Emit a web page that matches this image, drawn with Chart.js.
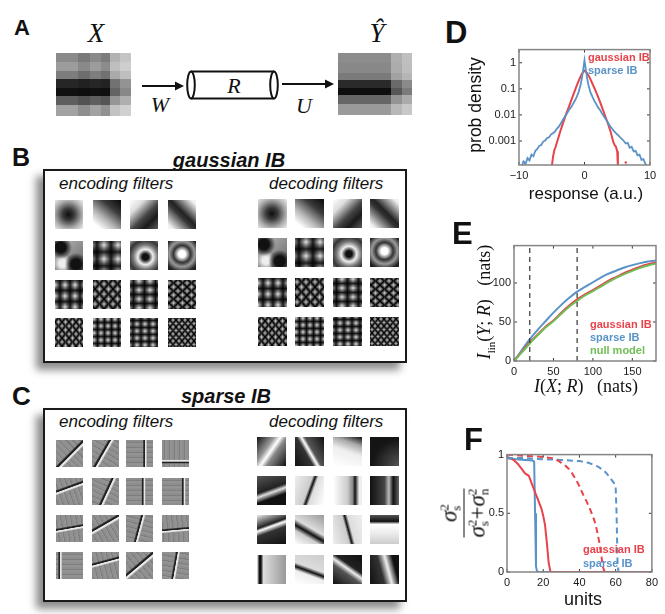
<!DOCTYPE html>
<html>
<head>
<meta charset="utf-8">
<script src="https://cdn.jsdelivr.net/npm/chart.js@4.4.1/dist/chart.umd.min.js"></script>
<style>
  body { margin: 0; background: #fff; }
  #fig { position: relative; width: 665px; height: 614px; overflow: hidden;
         font-family: "Liberation Sans", Arial, sans-serif; color: #111; }
  .abs { position: absolute; line-height: 1; white-space: nowrap; }
  .letter { position: absolute; font-weight: bold; line-height: 1; }
  .serif { font-family: "Liberation Serif", "DejaVu Serif", serif; }
  .it { font-style: italic; }
  .box { position: absolute; border: 2px solid #1a1a1a; background: #fff;
         box-shadow: -7px 7px 8px rgba(0,0,0,0.45); box-sizing: border-box; }
  .ttl { position: absolute; font-weight: bold; font-style: italic; font-size: 20px; line-height: 1;
         transform: translateX(-50%); white-space: nowrap; }
  .sub { position: absolute; font-style: italic; font-size: 17px; line-height: 1; white-space: nowrap; }
  .patch { position: absolute; }
  .soft { filter: blur(0.6px); }
  .rot { transform: translate(-50%, -50%) rotate(-90deg); }
  .ctr { transform: translate(-50%, -50%); }
  .leg { position: absolute; font-weight: bold; font-size: 11px; line-height: 13px; white-space: nowrap; }
  .ss { display: inline-block; vertical-align: -0.3em; font-size: 0.58em; line-height: 0.9;
        font-style: normal; text-align: left; }
  .wrap { position: absolute; }
</style>
</head>
<body>
<div id="fig">
  <!-- panel A -->
  <div class="letter" style="left:14px;top:17px;font-size:22px">A</div>
  <div class="patch" id="xPatch" style="left:56px;top:53px;width:75px;height:63px"></div>
  <div class="patch" id="yPatch" style="left:338px;top:53px;width:74px;height:62px"></div>
  <svg class="abs" style="left:0;top:0" width="665" height="140">
    <g font-family="Liberation Serif, DejaVu Serif, serif" font-style="italic" text-anchor="middle" fill="#111">
      <text x="96" y="42" font-size="27">X</text>
      <text x="377" y="42" font-size="27">Ŷ</text>
      <text x="160" y="112" font-size="22">W</text>
      <text x="304" y="113" font-size="22">U</text>
      <text x="234" y="93" font-size="22">R</text>
    </g>
    <g stroke="#111" stroke-width="2" fill="none">
      <line x1="142" y1="86" x2="176" y2="86"/>
      <line x1="282" y1="84" x2="326" y2="84"/>
      <line x1="191" y1="71.5" x2="274" y2="71.5"/>
      <line x1="191" y1="98.5" x2="274" y2="98.5"/>
      <ellipse cx="191" cy="85" rx="3.8" ry="13.5"/>
      <ellipse cx="274" cy="85" rx="3.8" ry="13.5"/>
    </g>
    <polygon points="175,81.5 184,86 175,90.5" fill="#111"/>
    <polygon points="325,79.5 334,84 325,88.5" fill="#111"/>
  </svg>

  <!-- panel B -->
  <div class="letter" style="left:12px;top:145px;font-size:25px">B</div>
  <div class="ttl" style="left:229px;top:150px">gaussian IB</div>
  <div class="box" style="left:43px;top:169px;width:364px;height:194px"></div>
  <div class="sub" style="left:59px;top:175px">encoding filters</div>
  <div class="sub" style="left:269px;top:175px">decoding filters</div>

  <!-- panel C -->
  <div class="letter" style="left:12px;top:383px;font-size:26px">C</div>
  <div class="ttl" style="left:226px;top:386px">sparse IB</div>
  <div class="box" style="left:43px;top:408px;width:364px;height:194px"></div>
  <div class="sub" style="left:59px;top:413px">encoding filters</div>
  <div class="sub" style="left:269px;top:413px">decoding filters</div>

  <!-- panel D -->
  <div class="letter" style="left:445px;top:17px;font-size:31px">D</div>
  <div class="wrap" style="left:478px;top:40px"><canvas id="chartD" width="185" height="145"></canvas></div>
  <div class="abs rot" style="left:476px;top:105px;font-size:17.5px">prob density</div>
  <div class="abs ctr" style="left:586px;top:193px;font-size:17px">response (a.u.)</div>
  <div class="leg" style="left:588px;top:51px;color:#e8434b">gaussian IB</div>
  <div class="leg" style="left:588px;top:64px;color:#5a93c8">sparse IB</div>

  <!-- panel E -->
  <div class="letter" style="left:452px;top:218px;font-size:31px">E</div>
  <div class="wrap" style="left:479px;top:236px"><canvas id="chartE" width="185" height="145"></canvas></div>
  <div class="abs rot serif" style="left:486px;top:302px;font-size:18px"><span class="it">I</span><sub style="font-size:11px">lin</sub>(<span class="it">Y</span>; <span class="it">R</span>)&nbsp;&nbsp;&nbsp;(nats)</div>
  <div class="abs ctr serif" style="left:586px;top:386px;font-size:18px"><span class="it">I</span>(<span class="it">X</span>; <span class="it">R</span>)&nbsp;&nbsp;&nbsp;(nats)</div>
  <div class="leg" style="left:590px;top:318px;color:#e8434b">gaussian IB</div>
  <div class="leg" style="left:590px;top:331px;color:#5a93c8">sparse IB</div>
  <div class="leg" style="left:590px;top:344px;color:#6fbf55">null model</div>

  <!-- panel F -->
  <div class="letter" style="left:464px;top:424px;font-size:31px">F</div>
  <div class="wrap" style="left:475px;top:445px"><canvas id="chartF" width="187" height="147"></canvas></div>
  <div class="abs rot serif" style="left:464px;top:513px;font-size:23px;text-align:center">
    <div style="padding:0 5px 1px"><span class="it">σ</span><span class="ss">2<br>s</span></div>
    <div style="border-top:1.5px solid #111;padding-top:1px"><span class="it">σ</span><span class="ss">2<br>s</span>+<span class="it">σ</span><span class="ss">2<br>n</span></div>
  </div>
  <div class="abs ctr" style="left:583px;top:599px;font-size:18px">units</div>
  <div class="leg" style="left:583px;top:543px;color:#e8434b">gaussian IB</div>
  <div class="leg" style="left:583px;top:557px;color:#5a93c8">sparse IB</div>
</div>

<script>
// ---- D: response distributions (log density) ----
const dRespGauss = [-5.0, -4.8, -4.6, -4.4, -4.2, -4.0, -3.6, -3.2, -2.8, -2.4, -2.0, -1.6, -1.2, -0.8, -0.4,
  0, 0.4, 0.8, 1.2, 1.6, 2.0, 2.4, 2.8, 3.2, 3.6, 4.0, 4.4, 4.6, 4.8, 5.0, 5.1];
const dGaussIB = [0.0001, 0.00025, 0.00045, 0.0006, 0.0009, 0.0013, 0.0028, 0.0055, 0.011, 0.02, 0.038, 0.07, 0.13, 0.23, 0.38,
  0.5, 0.4, 0.27, 0.16, 0.095, 0.055, 0.03, 0.016, 0.0085, 0.0045, 0.0022, 0.0009, 0.0007, 0.0006, 0.0004, 0.0001];
const dRespSparse = [-9.6, -9.3, -9.0, -8.7, -8.4, -8.1, -7.8, -7.5, -7.2, -6.9, -6.6, -6.3, -6.0, -5.7, -5.4, -5.1,
  -4.8, -4.5, -4.2, -3.9, -3.6, -3.3, -3.0, -2.7, -2.4, -2.1, -1.8, -1.5, -1.2, -0.9, -0.6, -0.4, -0.2,
  0, 0.2, 0.4, 0.6, 0.9, 1.2, 1.5, 1.8, 2.1, 2.4, 2.7, 3.0, 3.3, 3.6, 3.9, 4.2, 4.5, 4.8, 5.1, 5.4,
  5.7, 6.0, 6.3, 6.6, 6.9, 7.2, 7.5, 7.8, 8.1, 8.4, 8.7, 9.0, 9.3, 9.6];
const dSparseIB = [0.00011, 0.00016, 0.00013, 0.00022, 0.00018, 0.0003, 0.00026, 0.00042, 0.0005, 0.00065, 0.0007, 0.00095,
  0.00105, 0.0013, 0.0014, 0.0018, 0.002, 0.0023, 0.003, 0.0036, 0.0048, 0.0065, 0.0085, 0.011, 0.015, 0.019,
  0.025, 0.034, 0.048, 0.075, 0.14, 0.26, 0.55,
  1.25, 0.55, 0.26, 0.14, 0.075, 0.05, 0.035, 0.026, 0.019, 0.015, 0.011, 0.0085, 0.0066, 0.005, 0.0037, 0.003,
  0.0024, 0.002, 0.0017, 0.0014, 0.0012, 0.001, 0.0008, 0.00085, 0.00055, 0.0006, 0.0004, 0.00042, 0.00028,
  0.0003, 0.00019, 0.0002, 0.00013, 0.00011];
const dStrayGaussX = [6.3], dStrayGaussY = [0.00015];
const dStraySparseX = [-9.3], dStraySparseY = [0.00016];
const dXTicks = [-10, 0, 10];
const dYTicks = [0.001, 0.01, 0.1, 1];

// ---- E: linear information vs compression ----
const eInfoX = [0, 10, 20, 30, 40, 50, 60, 70, 80, 90, 100, 110, 120, 130, 140, 150, 160, 170, 180];
const eGaussIB = [0, 12, 24, 34, 44, 52, 62, 71, 79, 85.5, 91, 97, 103, 108, 113, 117, 121, 124, 126.5];
const eSparseIB = [0, 14, 28, 40, 51, 62, 72, 81, 89, 95, 101, 107, 112, 116, 120, 123, 125.5, 127.5, 129];
const eNullModel = [0, 11, 22.5, 33, 43, 51, 60.5, 69.5, 77, 84, 89.5, 95.5, 101.5, 107, 111.5, 115.5, 119.5, 122.5, 125];
const eMarkers = [20, 80];
const eXTicks = [0, 50, 100, 150];
const eYTicks = [0, 50, 100];

// ---- F: signal fraction per unit (solid: I=20, dashed: I=80) ----
const fGaussX20 = [0, 2, 4, 6, 8, 10, 11, 12, 13, 14, 15, 16, 17, 18, 19, 20, 21, 22, 23, 24, 40, 60, 80];
const fGaussY20 = [0.98, 0.97, 0.95, 0.92, 0.88, 0.84, 0.83, 0.82, 0.78, 0.74, 0.7, 0.66, 0.62, 0.58, 0.54, 0.48, 0.4, 0.25, 0.08, 0, 0, 0, 0];
const fSparseX20 = [0, 2, 5, 10, 14, 15, 15.5, 16, 16.5, 17, 18, 40, 80];
const fSparseY20 = [0.97, 0.965, 0.96, 0.955, 0.95, 0.94, 0.5, 0.05, 0.01, 0.003, 0, 0, 0];
const fGaussX80 = [0, 10, 20, 25, 28, 30, 32, 34, 36, 38, 40, 42, 44, 46, 48, 49, 50, 51, 52, 53, 54, 60, 70, 80];
const fGaussY80 = [1, 0.99, 0.98, 0.97, 0.95, 0.93, 0.91, 0.88, 0.84, 0.79, 0.73, 0.66, 0.6, 0.53, 0.45, 0.4, 0.33, 0.25, 0.15, 0.04, 0, 0, 0, 0];
const fSparseX80 = [0, 10, 20, 30, 40, 45, 50, 53, 55, 57, 59, 60, 60.5, 61, 61.5, 62, 70, 80];
const fSparseY80 = [0.97, 0.97, 0.96, 0.955, 0.945, 0.93, 0.9, 0.87, 0.84, 0.8, 0.76, 0.72, 0.5, 0.1, 0.01, 0, 0, 0];
const fXTicks = [0, 20, 40, 60, 80];
const fYTicks = [0, 0.5, 1];

const RED = '#e8434b', BLUE = '#5a93c8', GREEN = '#6fbf55';
const tickFont = { family: 'Liberation Sans, Arial, sans-serif', size: 11 };

const pts = (xs, ys) => xs.map((x, i) => ({ x: x, y: ys[i] }));
const minus = v => (v < 0 ? '\u2212' + Math.abs(v) : String(v));

// matlab style box with inward ticks
const boxPlugin = {
  id: 'mbox',
  afterDatasetsDraw(chart) {
    const { ctx, chartArea: a, scales } = chart;
    ctx.save();
    ctx.strokeStyle = '#3a3a3a';
    ctx.lineWidth = 1;
    ctx.beginPath();
    scales.x.ticks.forEach(t => {
      const px = scales.x.getPixelForValue(t.value);
      ctx.moveTo(px, a.bottom); ctx.lineTo(px, a.bottom - 3);
      ctx.moveTo(px, a.top); ctx.lineTo(px, a.top + 3);
    });
    scales.y.ticks.forEach(t => {
      const py = scales.y.getPixelForValue(t.value);
      ctx.moveTo(a.left, py); ctx.lineTo(a.left + 3, py);
      ctx.moveTo(a.right, py); ctx.lineTo(a.right - 3, py);
    });
    ctx.stroke();
    ctx.strokeStyle = '#858585';
    ctx.lineWidth = 1.5;
    ctx.strokeRect(a.left, a.top, a.right - a.left, a.bottom - a.top);
    ctx.restore();
  }
};

function axis(type, min, max, tickList, size, horizontal) {
  return {
    type: type, min: min, max: max,
    grid: { display: false, drawTicks: false },
    border: { display: false },
    afterBuildTicks: s => { s.ticks = tickList.map(v => ({ value: v })); },
    afterFit: s => { if (horizontal) s.height = size; else s.width = size; },
    ticks: { font: tickFont, color: '#1a1a1a', padding: horizontal ? 4 : 3, maxRotation: 0, autoSkip: false, callback: minus }
  };
}

function line(data, color, extra) {
  return Object.assign({ data: data, borderColor: color, borderWidth: 2, pointRadius: 0, tension: 0, fill: false }, extra || {});
}

function makeChart(id, datasets, scales, padRight) {
  return new Chart(document.getElementById(id), {
    type: 'line',
    data: { datasets: datasets },
    options: {
      responsive: false,
      animation: false,
      layout: { padding: { top: 8, right: padRight, left: 0, bottom: 0 } },
      plugins: { legend: { display: false }, tooltip: { enabled: false } },
      scales: scales
    },
    plugins: [boxPlugin]
  });
}

makeChart('chartD', [
  line(pts(dRespSparse, dSparseIB), BLUE, { borderWidth: 1.8 }),
  line(pts(dRespGauss, dGaussIB), RED),
  { type: 'scatter', data: pts(dStraySparseX, dStraySparseY), pointRadius: 1.2, backgroundColor: BLUE, borderWidth: 0 },
  { type: 'scatter', data: pts(dStrayGaussX, dStrayGaussY), pointRadius: 1.2, backgroundColor: RED, borderWidth: 0 }
], {
  x: axis('linear', -10, 10, dXTicks, 20, true),
  y: axis('logarithmic', 0.00012, 3.2, dYTicks, 41, false)
}, 13);

const eYMin = 0, eYMax = 148;
makeChart('chartE', [
  ...eMarkers.map(m => line([{ x: m, y: eYMin }, { x: m, y: eYMax }], '#333', { borderWidth: 1.2, borderDash: [5, 4] })),
  line(pts(eInfoX, eNullModel), GREEN, { tension: 0.3 }),
  line(pts(eInfoX, eGaussIB), RED, { tension: 0.3 }),
  line(pts(eInfoX, eSparseIB), BLUE, { tension: 0.3 })
], {
  x: axis('linear', 0, 180, eXTicks, 20, true),
  y: axis('linear', eYMin, eYMax, eYTicks, 35, false)
}, 8);

makeChart('chartF', [
  line(pts(fGaussX80, fGaussY80), RED, { borderDash: [6, 4] }),
  line(pts(fSparseX80, fSparseY80), BLUE, { borderDash: [6, 4] }),
  line(pts(fGaussX20, fGaussY20), RED),
  line(pts(fSparseX20, fSparseY20), BLUE)
], {
  x: axis('linear', 0, 80, fXTicks, 20, true),
  y: axis('linear', 0, 1, fYTicks, 32, false)
}, 10);

// ---- filter patches (decoration, CSS gradients) ----
const fig = document.getElementById('fig');
function patch(x, y, w, h, bg, blend, cls) {
  const d = document.createElement('div');
  d.className = 'patch' + (cls ? ' ' + cls : '');
  d.style.cssText = `left:${x}px;top:${y}px;width:${w}px;height:${h}px;background:${bg};` +
    (blend ? `background-blend-mode:${blend};` : '');
  fig.appendChild(d);
}
const plaid = (p, q, ox, oy) =>
  `repeating-linear-gradient(90deg,#f2f2f2 ${ox}px,#1c1c1c ${ox + p / 2}px,#f2f2f2 ${ox + p}px),` +
  `repeating-linear-gradient(0deg,#f2f2f2 ${oy}px,#262626 ${oy + q / 2}px,#f2f2f2 ${oy + q}px)`;
const gaussPats = [
  ['radial-gradient(circle at 48% 50%,#0d0d0d 0%,#3a3a3a 28%,#b0b0b0 68%,#efefef 100%)'],
  ['linear-gradient(220deg,#111 5%,#3a3a3a 30%,#b5b5b5 62%,#fff 88%)'],
  ['linear-gradient(135deg,#fff 0%,#ddd 25%,#454545 55%,#1a1a1a 75%,#5a5a5a 100%)'],
  ['linear-gradient(45deg,#f2f2f2 8%,#333 45%,#222 55%,#f2f2f2 92%)'],
  ['radial-gradient(circle at 20% 22%,#111 0 16%,transparent 36%),radial-gradient(circle at 75% 80%,#111 0 16%,transparent 36%),radial-gradient(circle at 28% 78%,#eee 0 12%,transparent 30%),linear-gradient(135deg,#bbb,#666)'],
  [plaid(14, 14, -3, -3), 'multiply'],
  ['radial-gradient(circle at 55% 55%,#111 0 14%,#eee 34%,#777 55%,#333 75%,#999 100%)'],
  ['radial-gradient(circle at 50% 45%,#fff 0 16%,#333 40%,#999 60%,#222 85%)'],
  [plaid(10, 11, 0, 2), 'multiply'],
  [plaid(9, 10, 2, 0), 'difference'],
  [plaid(11, 9, -2, 1), 'multiply'],
  [plaid(9, 8, 1, -2), 'difference'],
  [plaid(7, 8, 0, 1), 'difference'],
  [plaid(7, 7, 1, 0), 'multiply'],
  [plaid(8, 7, -1, 2), 'multiply'],
  [plaid(6, 7, 2, -1), 'difference']
];
const bEncX = [55, 93, 130, 168], bEncY = [200, 241, 280, 318];
const bDecX = [258, 295, 333, 370], bDecY = [199, 238, 278, 317];
gaussPats.forEach((p, i) => {
  const r = Math.floor(i / 4), c = i % 4;
  patch(bEncX[c], bEncY[r], 28, 29, p[0], p[1], 'soft');
  patch(bDecX[c], bDecY[r], 29, 29, p[0], p[1], 'soft');
});

const stripe = (a, pos) =>
  `linear-gradient(${a}deg,transparent ${pos - 8}%,#202020 ${pos - 4}%,#202020 ${pos - 1}%,#e8e8e8 ${pos + 1}%,#e8e8e8 ${pos + 4}%,transparent ${pos + 8}%),` +
  `repeating-linear-gradient(${a + 90}deg,#8e8e8e 0 2px,#7e7e7e 2px 3px,#939393 3px 5px)`;
const sparseEnc = [[135, 55], [120, 45], [90, 70], [0, 20], [160, 40], [115, 55], [90, 65], [90, 80],
  [170, 50], [150, 40], [105, 50], [175, 55], [90, 15], [165, 40], [140, 50], [100, 50]];
const sparseDec = [
  'linear-gradient(125deg,#111 0%,#999 35%,#fff 48%,#888 60%,#111 100%)',
  'linear-gradient(60deg,#111 0%,#333 40%,#fff 50%,#555 58%,#111 100%)',
  'linear-gradient(200deg,#111 0%,#aaa 25%,#eee 50%,#fff 100%)',
  'radial-gradient(circle at 100% 100%,#555 0%,#151515 65%)',
  'linear-gradient(160deg,#555 0%,#222 45%,#ddd 55%,#111 70%)',
  'linear-gradient(110deg,#eee 0%,#ccc 45%,#111 52%,#ddd 60%,#fff 100%)',
  'linear-gradient(90deg,#fff 0%,#ccc 50%,#888 68%,#111 76%,#eee 90%)',
  'linear-gradient(90deg,#111 0%,#444 50%,#bbb 65%,#111 80%,#666 100%)',
  'linear-gradient(160deg,#eee 0%,#222 35%,#fff 42%,#333 55%,#111 100%)',
  'linear-gradient(30deg,#fff 0%,#ccc 30%,#111 42%,#ddd 55%,#999 100%)',
  'linear-gradient(75deg,#eee 0%,#ccc 45%,#111 52%,#ddd 60%,#eee 100%)',
  'linear-gradient(0deg,#ccc 0%,#eee 40%,#fff 68%,#111 78%,#555 100%)',
  'linear-gradient(90deg,#fff 0%,#111 8%,#111 14%,#ddd 22%,#999 100%)',
  'linear-gradient(20deg,#fff 0%,#eee 35%,#111 45%,#ddd 55%,#ccc 100%)',
  'linear-gradient(35deg,#111 0%,#555 40%,#eee 52%,#222 62%,#111 100%)',
  'linear-gradient(75deg,#111 0%,#333 40%,#eee 60%,#111 80%)'
];
const cEncX = [56, 92, 126, 162], cEncY = [440, 478, 515, 552];
const cDecX = [257, 295, 333, 370], cDecY = [437, 476, 515, 555];
sparseEnc.forEach((s, i) => {
  const r = Math.floor(i / 4), c = i % 4;
  patch(cEncX[c], cEncY[r], 27, 27, stripe(s[0], s[1]));
  patch(cDecX[c], cDecY[r], 29, 29, sparseDec[i]);
});

// panel A image patches
document.getElementById('xPatch').style.background =
  'linear-gradient(90deg,rgba(255,255,255,0) 0 72%,rgba(255,255,255,.35) 72% 86%,rgba(255,255,255,.5) 86%),' +
  'linear-gradient(90deg,rgba(0,0,0,0) 0 30%,rgba(0,0,0,.12) 30% 45%,rgba(0,0,0,0) 45% 60%,rgba(0,0,0,.1) 60% 72%,rgba(0,0,0,0) 72%),' +
  'linear-gradient(180deg,#8a8a8a 0 14%,#9c9c9c 14% 28%,#7d7d7d 28% 42%,#262626 42% 56%,#111 56% 68%,#5e5e5e 68% 82%,#a2a2a2 82%)';
document.getElementById('yPatch').style.background =
  'linear-gradient(90deg,rgba(255,255,255,0) 0 72%,rgba(255,255,255,.3) 72% 86%,rgba(255,255,255,.45) 86%),' +
  'linear-gradient(180deg,#8c8c8c 0 16%,#888 16% 32%,#7a7a7a 32% 44%,#2a2a2a 44% 56%,#0e0e0e 56% 68%,#666 68% 82%,#9a9a9a 82%)';
</script>
</body>
</html>
